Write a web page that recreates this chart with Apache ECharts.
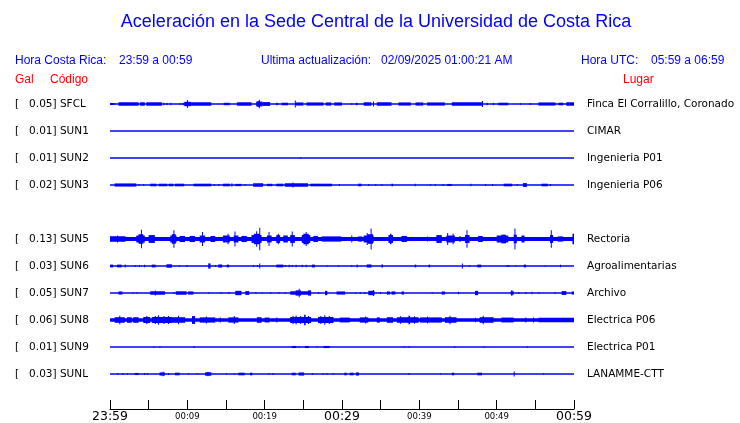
<!DOCTYPE html>
<html>
<head>
<meta charset="utf-8">
<script src="https://cdn.jsdelivr.net/npm/echarts@6/dist/echarts.min.js"></script>
<style>
html, body { margin: 0; padding: 0; background: #fff; }
#chart { width: 740px; height: 423px; }
</style>
</head>
<body>
<div id="chart"></div>
<script>
// time axis: minutes after 23:59
const TICK_LABELS = ["23:59", "00:09", "00:19", "00:29", "00:39", "00:49", "00:59"];
const BIG_LABELS = ["23:59", "00:29", "00:59"];

// rows top to bottom, null = SUN4 (no data, empty row)
const ROWS = ["SFCL", "SUN1", "SUN2", "SUN3", null, "SUN5", "SUN6", "SUN7", "SUN8", "SUN9", "SUNL"];
const PEAK_GAL = [0.05, 0.01, 0.01, 0.02, null, 0.13, 0.03, 0.05, 0.06, 0.01, 0.03];
const PLACES = ["Finca El Corralillo, Coronado", "CIMAR", "Ingenieria P01", "Ingenieria P06", null,
	"Rectoria", "Agroalimentarias", "Archivo", "Electrica P06", "Electrica P01", "LANAMME-CTT"];

// bursts per station: [start min, end min, half amplitude gal]
const SFCL = [[0,0.6,0.012],[1.1,3.7,0.02],[3.9,4.5,0.02],[4.7,6.7,0.02],[6.9,7.0,0.015],[7.3,7.4,0.015],[7.8,7.9,0.015],
	[9.0,9.1,0.012],[9.4,9.5,0.015],[9.6,10.5,0.025],[9.95,10.05,0.045],[10.5,13.1,0.02],[14.7,15.5,0.014],[16.4,18.3,0.02],
	[18.9,19.7,0.028],[19.1,19.15,0.035],[19.25,19.35,0.05],[19.7,20.7,0.022],[21.5,21.7,0.015],[22.2,23.0,0.015],[23.9,24.0,0.04],
	[24.0,25.0,0.018],[25.4,27.6,0.018],[27.9,28.6,0.018],[29.0,30.0,0.018],[31.2,31.3,0.012],[31.8,32.0,0.014],[32.8,33.8,0.02],
	[34.0,34.1,0.03],[34.5,36.4,0.02],[37.3,38.9,0.018],[39.5,40.5,0.018],[41.0,43.3,0.018],[44.2,48.1,0.02],[48.1,48.2,0.035],
	[48.7,48.8,0.015],[49.5,49.6,0.015],[50.2,51.5,0.015],[53.0,53.1,0.012],[54.3,54.4,0.012],[55.4,57.6,0.018],[58.0,58.6,0.015],
	[59.0,60,0.02]];
const SUN1 = [];
const SUN2 = [[24.6,24.7,0.01]];
const SUN3 = [[0.6,3.4,0.018],[3.7,3.8,0.012],[4.3,4.4,0.012],[5.2,6.0,0.015],[6.3,7.4,0.015],[7.6,8.2,0.015],[8.4,9.6,0.015],
	[10.8,13.1,0.015],[13.4,13.5,0.012],[14.0,14.1,0.012],[14.6,15.5,0.015],[15.7,15.8,0.02],[16.2,17.0,0.013],[17.4,17.5,0.012],
	[18.5,19.8,0.02],[20.3,21.0,0.014],[21.5,22.4,0.015],[22.6,25.6,0.02],[23.6,23.7,0.028],[25.9,28.7,0.015],[29.6,29.7,0.012],
	[32.1,32.5,0.015],[33.4,33.5,0.012],[34.3,34.4,0.012],[35.1,35.2,0.012],[36.4,36.6,0.015],[39.4,39.5,0.014],[41.4,41.5,0.01],
	[42.0,42.1,0.012],[43.0,43.1,0.012],[43.6,44.2,0.012],[46.6,46.7,0.014],[48.5,48.6,0.012],[49.4,49.5,0.012],[50.9,52.0,0.015],
	[52.6,52.7,0.012],[53.4,53.9,0.022],[55.8,56.6,0.015],[56.9,57.0,0.012]];
const SUN5 = [[0,60,0.022],[0,2.0,0.032],[0.9,1.0,0.04],[3.4,4.5,0.04],[3.7,4.3,0.055],[4.0,4.1,0.105],[5.0,5.8,0.045],
	[7.8,8.6,0.04],[8.0,8.5,0.055],[8.2,8.3,0.1],[9.0,9.7,0.035],[10.3,11.0,0.035],[11.6,12.3,0.04],[11.9,12.0,0.08],
	[13.0,13.6,0.035],[14.6,15.5,0.04],[15.2,15.3,0.06],[16.0,16.6,0.04],[16.1,16.2,0.085],[17.0,17.7,0.035],[18.3,19.6,0.045],
	[18.6,19.4,0.06],[19.3,19.4,0.13],[18.9,19.0,0.09],[20.3,20.9,0.04],[20.5,20.6,0.08],[21.5,22.0,0.045],[21.7,21.8,0.06],
	[22.4,23.0,0.04],[23.3,23.9,0.045],[23.5,23.6,0.085],[24.8,25.9,0.045],[25.0,25.7,0.06],[25.3,25.4,0.08],[26.3,26.9,0.035],
	[27.4,29.9,0.03],[31.2,31.3,0.04],[32.1,32.6,0.03],[32.8,34.1,0.04],[33.3,34.0,0.055],[33.7,33.8,0.12],[33.2,33.3,0.07],
	[36.0,36.6,0.045],[36.2,36.4,0.06],[37.7,38.4,0.035],[41.0,41.1,0.03],[42.2,42.9,0.045],[43.5,44.6,0.04],[43.6,43.7,0.07],
	[44.3,44.4,0.06],[45.2,45.3,0.035],[45.9,46.5,0.045],[46.1,46.2,0.1],[47.6,48.2,0.035],[50.0,51.5,0.04],[50.6,51.2,0.05],
	[52.2,52.6,0.05],[52.3,52.4,0.12],[53.2,53.6,0.04],[56.9,57.3,0.045],[57.0,57.1,0.1],[57.9,58.6,0.03],[59.8,60,0.06]];
const SUN6 = [[0,0.4,0.016],[0.9,1.5,0.016],[1.9,2.0,0.016],[3.2,3.3,0.012],[3.75,3.85,0.012],[4.4,4.5,0.014],[5.4,5.9,0.016],
	[7.3,8.0,0.02],[8.9,9.0,0.01],[9.9,10.0,0.012],[12.7,13.0,0.03],[13.6,13.7,0.012],[14.0,14.5,0.018],[15.1,15.4,0.016],
	[18.5,18.6,0.012],[19.0,19.1,0.012],[19.3,19.4,0.03],[21.5,22.4,0.016],[22.6,22.7,0.012],[23.1,23.2,0.014],[23.5,23.6,0.012],
	[24.0,24.1,0.014],[24.8,24.9,0.014],[25.3,25.4,0.014],[26.1,26.5,0.016],[28.0,28.1,0.01],[29.5,29.6,0.01],[31.2,31.3,0.012],
	[31.9,32.0,0.016],[33.2,33.8,0.018],[35.1,35.3,0.016],[39.4,39.6,0.016],[41.2,41.4,0.016],[45.5,45.6,0.03],[46.4,46.5,0.01],
	[47.5,48.0,0.016],[51.3,51.4,0.012],[51.5,51.6,0.012],[52.4,52.5,0.01],[53.5,53.8,0.016],[56.2,56.3,0.008],[58.2,58.3,0.014]];
const SUN7 = [[1.1,1.6,0.018],[2.9,3.0,0.01],[3.4,3.5,0.01],[5.2,7.1,0.02],[5.8,5.9,0.028],[8.2,8.3,0.012],[8.5,9.9,0.02],
	[10.1,10.8,0.018],[12.7,12.8,0.01],[14.3,14.4,0.012],[15.3,15.4,0.012],[16.2,17.0,0.025],[17.5,18.0,0.022],[18.8,18.9,0.012],
	[19.6,19.7,0.01],[20.7,20.8,0.01],[21.8,21.9,0.01],[22.6,22.7,0.012],[23.3,26.0,0.02],[24.0,24.7,0.03],[24.4,24.5,0.05],
	[25.6,26.0,0.03],[26.9,27.0,0.012],[27.8,28.1,0.025],[29.3,30.4,0.018],[31.7,31.8,0.01],[32.3,32.4,0.012],[32.9,33.0,0.012],
	[33.4,34.2,0.025],[34.0,34.1,0.035],[34.9,35.0,0.012],[35.8,36.2,0.018],[36.4,36.9,0.018],[37.7,38.0,0.018],[41.6,41.7,0.01],
	[42.9,43.3,0.018],[45.0,45.1,0.015],[47.2,47.6,0.025],[51.8,52.2,0.02],[51.9,52.0,0.035],[52.8,52.9,0.012],[53.7,53.8,0.012],
	[54.5,54.6,0.014],[55.4,55.5,0.01],[57.5,57.6,0.012],[58.4,59.0,0.022],[59.7,60,0.018]];
const SUN8 = [[0,60,0.02],[0.6,1.9,0.032],[1.2,1.3,0.048],[2.2,2.8,0.032],[3.0,3.7,0.032],[4.3,5.2,0.035],[4.7,4.8,0.045],
	[5.4,8.0,0.035],[5.8,5.9,0.045],[6.2,6.3,0.055],[6.9,7.0,0.045],[7.5,7.6,0.045],[8.0,9.7,0.032],[8.8,8.9,0.048],
	[10.6,11.0,0.045],[11.6,13.6,0.03],[12.4,12.5,0.04],[14.2,14.3,0.03],[15.3,16.6,0.03],[16.0,16.1,0.045],[19.0,19.6,0.032],
	[20.0,20.6,0.028],[21.5,21.6,0.03],[23.3,26.0,0.035],[23.6,23.7,0.048],[24.0,24.1,0.052],[24.6,24.7,0.045],[25.1,25.3,0.06],
	[25.6,25.7,0.045],[26.9,28.9,0.035],[27.2,27.3,0.045],[27.7,27.8,0.055],[28.3,28.4,0.045],[29.7,31.0,0.028],[32.3,33.4,0.03],
	[33.0,33.1,0.04],[34.5,34.9,0.03],[35.8,36.6,0.032],[37.1,39.9,0.032],[37.5,37.6,0.042],[38.6,38.8,0.05],[39.3,39.4,0.042],
	[40.1,42.9,0.03],[41.0,41.1,0.04],[43.3,44.8,0.032],[43.9,44.0,0.048],[47.2,47.3,0.025],[47.8,49.6,0.032],[48.2,48.3,0.05],
	[50.6,52.2,0.028],[53.7,53.8,0.03],[54.7,54.8,0.028],[55.4,60,0.026]];
const SUN9 = [[5.6,5.7,0.01],[6.4,6.5,0.01],[10.8,10.9,0.012],[23.5,24.1,0.012],[24.4,24.5,0.01],[25.2,25.7,0.012],
	[26.7,26.8,0.008],[27.6,28.4,0.012],[38.0,38.1,0.008],[38.6,38.7,0.008],[44.5,44.6,0.01],[48.3,48.4,0.01],[53.9,54.0,0.01]];
const SUNL = [[0.95,1.0,0.012],[1.6,1.7,0.012],[2.2,2.3,0.01],[3.2,3.7,0.012],[4.4,4.5,0.012],[4.8,4.9,0.012],[6.4,7.1,0.018],
	[6.8,6.9,0.025],[7.5,7.6,0.012],[8.4,9.0,0.015],[10.1,10.2,0.01],[11.2,11.3,0.01],[12.3,13.1,0.02],[12.6,12.7,0.025],
	[15.0,15.1,0.01],[16.0,16.1,0.01],[16.6,17.4,0.015],[18.1,18.4,0.015],[20.5,20.6,0.01],[21.0,21.1,0.012],[23.5,24.0,0.015],
	[24.4,25.1,0.018],[26.1,26.2,0.012],[27.5,27.6,0.01],[28.0,28.1,0.01],[28.8,28.9,0.01],[30.3,30.6,0.015],[31.0,31.5,0.015],
	[31.8,32.2,0.018],[38.6,38.7,0.012],[42.7,42.8,0.01],[44.2,44.5,0.015],[47.5,48.1,0.015],[52.2,52.3,0.03],[56.0,56.1,0.01]];
const BURSTS = [SFCL, SUN1, SUN2, SUN3, null, SUN5, SUN6, SUN7, SUN8, SUN9, SUNL];

const TRACE_COLOR = "#0000ff";
const SLOT_GAL = 0.31; // vertical distance between traces, in gal
const LINE_HALF = 0.8; // half thickness of the trace baseline, px
const DURATION = 60;

const leftLabels = [""].concat(ROWS.map(function (c, i) {
	return c ? "[   " + PEAK_GAL[i].toFixed(2) + "] " + c : "";
}), [""]);
const rightLabels = [""].concat(PLACES.map(function (p) { return p || ""; }), [""]);

function renderBurst(params, api) {
	const y = api.value(3);
	const a = api.coord([api.value(0), y]);
	const b = api.coord([api.value(1), y]);
	const h = Math.max(api.size([0, api.value(2)])[1], LINE_HALF);
	return {
		type: "rect",
		shape: { x: a[0], y: a[1] - h, width: Math.max(b[0] - a[0], 1), height: 2 * h },
		style: { fill: TRACE_COLOR }
	};
}

const series = [];
ROWS.forEach(function (code, i) {
	if (!code) return;
	const center = (i + 1) * SLOT_GAL;
	const data = [[0, DURATION, 0, center]].concat(BURSTS[i].map(function (d) {
		return [d[0], d[1], d[2], center];
	}));
	series.push({
		name: code,
		type: "custom",
		xAxisIndex: 0,
		yAxisIndex: 2,
		clip: false,
		silent: true,
		renderItem: renderBurst,
		encode: { x: [0, 1], y: 3 },
		data: data
	});
});

const headFont = "12px 'Liberation Sans', Arial, sans-serif";
function headText(x, y, text, color) {
	return { type: "text", x: x, y: y, style: { text: text, fill: color, font: headFont, verticalAlign: "middle" } };
}

const chart = echarts.init(document.getElementById("chart"));
chart.setOption({
	animation: false,
	backgroundColor: "#fff",
	graphic: [
		{
			type: "text", x: 376, y: 22,
			style: {
				text: "Aceleración en la Sede Central de la Universidad de Costa Rica",
				fill: "#0000ff", font: "18px 'Liberation Sans', Arial, sans-serif",
				textAlign: "center", verticalAlign: "middle"
			}
		},
		headText(15, 61, "Hora Costa Rica:", "#0000ff"),
		headText(119, 61, "23:59 a 00:59", "#0000ff"),
		headText(261, 61, "Ultima actualización:", "#0000ff"),
		headText(381, 61, "02/09/2025 01:00:21 AM", "#0000ff"),
		headText(581, 61, "Hora UTC:", "#0000ff"),
		headText(651, 61, "05:59 a 06:59", "#0000ff"),
		headText(15, 80, "Gal", "#ff0000"),
		headText(50, 80, "Código", "#ff0000"),
		headText(623, 80, "Lugar", "#ff0000")
	],
	grid: { left: 110, right: 166, top: 77, height: 324 },
	xAxis: {
		type: "value",
		min: 0,
		max: DURATION,
		interval: 5,
		offset: 8,
		axisLine: { show: true, onZero: false, lineStyle: { color: "#000", width: 1 } },
		axisTick: { show: true, inside: true, length: 9, lineStyle: { color: "#000" } },
		splitLine: { show: false },
		axisLabel: {
			margin: 1,
			verticalAlign: "top",
			formatter: function (v) {
				if (v % 10 !== 0) return "";
				const t = TICK_LABELS[v / 10];
				return BIG_LABELS.indexOf(t) >= 0 ? "{big|" + t + "}" : "{small|" + t + "}";
			},
			rich: {
				big: { fontSize: 12.5, fontFamily: "DejaVu Sans", color: "#000" },
				small: { fontSize: 8.5, fontFamily: "DejaVu Sans", color: "#000", padding: [2, 0, 0, 0] }
			}
		}
	},
	yAxis: [
		{
			type: "category",
			position: "left",
			inverse: true,
			boundaryGap: false,
			data: leftLabels,
			axisLine: { show: false },
			axisTick: { show: false },
			splitLine: { show: false },
			axisLabel: {
				interval: 0, align: "left", margin: 95,
				fontSize: 10.5, fontFamily: "DejaVu Sans", color: "#000"
			}
		},
		{
			type: "category",
			position: "right",
			inverse: true,
			boundaryGap: false,
			data: rightLabels,
			axisLine: { show: false },
			axisTick: { show: false },
			splitLine: { show: false },
			axisLabel: {
				interval: 0, align: "left", margin: 13,
				fontSize: 10.5, fontFamily: "DejaVu Sans", color: "#000"
			}
		},
		{
			type: "value",
			inverse: true,
			min: 0,
			max: 12 * SLOT_GAL,
			show: false
		}
	],
	series: series
});
</script>
</body>
</html>
